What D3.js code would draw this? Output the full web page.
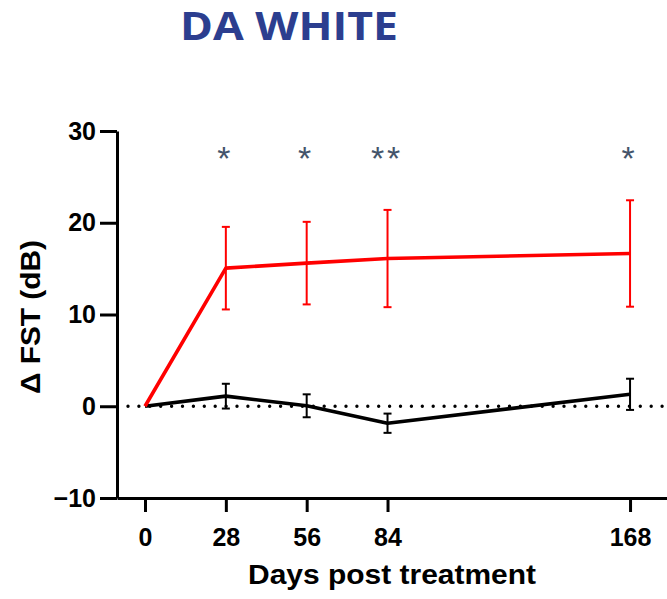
<!DOCTYPE html>
<html>
<head>
<meta charset="utf-8">
<script src="https://cdn.jsdelivr.net/npm/d3@7"></script>
<style>
  html, body { margin: 0; padding: 0; background: #ffffff; }
  svg { display: block; }
</style>
</head>
<body>
<svg id="chart" width="667" height="599"></svg>
<script>
// Time points (days post treatment)
const days = [0, 28, 56, 84, 168];
const xTickValues = [0, 28, 56, 84, 168];
const yTickValues = [-10, 0, 10, 20, 30];

// Treated group (red): mean change and SEM
const treatedMean = [0, 15.05, 15.6, 16.1, 16.65];
const treatedSem  = [0, 4.5, 4.5, 5.3, 5.8];

// Control group (black): mean change and SEM
const controlMean = [0, 1.1, 0.05, -1.85, 1.3];
const controlSem  = [0, 1.35, 1.25, 1.05, 1.7];

// Significance markers per time point
const significance = ["", "*", "*", "**", "*"];

const titleText = "DA WHITE";
const xTitle = "Days post treatment";
const yTitle = "\u0394 FST (dB)";

const svg = d3.select("#chart");
const font = "'Liberation Sans', Arial, sans-serif";

const x = d3.scaleLinear().domain([-9.7, 180.8]).range([117, 667]);
const y = d3.scaleLinear().domain([-10, 30]).range([498, 131]);

// Title
svg.append("text")
  .attr("x", 289).attr("y", 39.5)
  .attr("text-anchor", "middle")
  .attr("font-family", "'Open Sans', 'Noto Sans', sans-serif")
  .attr("font-weight", 700)
  .attr("font-size", 39)
  .attr("textLength", 218)
  .attr("lengthAdjust", "spacingAndGlyphs")
  .attr("fill", "#2c3e8f")
  .text(titleText);

// Zero reference line (dotted)
svg.append("line")
  .attr("x1", 128).attr("x2", 667)
  .attr("y1", y(0)).attr("y2", y(0))
  .attr("stroke", "#000")
  .attr("stroke-width", 3.4)
  .attr("stroke-linecap", "round")
  .attr("stroke-dasharray", "0 10.9");

// Axes
const xAxis = d3.axisBottom(x).tickValues(xTickValues).tickSize(14).tickSizeOuter(0).tickPadding(16);
const yAxis = d3.axisLeft(y).tickValues(yTickValues).tickSize(17).tickSizeOuter(0).tickPadding(4);

const gx = svg.append("g").attr("transform", `translate(0,${y(-10)})`).call(xAxis);
const gy = svg.append("g").attr("transform", `translate(${x(-9.7)},0)`).call(yAxis);

[gx, gy].forEach(g => {
  g.selectAll("path, line").attr("stroke", "#000").attr("stroke-width", 3);
  g.selectAll("text")
    .attr("font-family", font)
    .attr("font-weight", 700)
    .attr("font-size", 25)
    .attr("fill", "#000");
});

// Axis titles
svg.append("text")
  .attr("x", 392).attr("y", 584)
  .attr("text-anchor", "middle")
  .attr("font-family", font)
  .attr("font-weight", 700)
  .attr("font-size", 28)
  .attr("textLength", 288)
  .attr("lengthAdjust", "spacingAndGlyphs")
  .attr("fill", "#000")
  .text(xTitle);

svg.append("text")
  .attr("transform", "translate(40,317) rotate(-90)")
  .attr("text-anchor", "middle")
  .attr("font-family", font)
  .attr("font-weight", 700)
  .attr("font-size", 28)
  .attr("textLength", 154)
  .attr("lengthAdjust", "spacingAndGlyphs")
  .attr("fill", "#000")
  .text(yTitle);

// Series drawing helper
function drawSeries(means, sems, color) {
  const pts = days.map((d, i) => ({ d, m: means[i], s: sems[i] }));
  const line = d3.line().x(p => x(p.d)).y(p => y(p.m));
  const g = svg.append("g");
  const bars = pts.filter(p => p.s > 0);
  const cap = 4;
  g.selectAll(".eb").data(bars).join("line")
    .attr("x1", p => x(p.d)).attr("x2", p => x(p.d))
    .attr("y1", p => y(p.m - p.s)).attr("y2", p => y(p.m + p.s))
    .attr("stroke", color).attr("stroke-width", 2);
  g.selectAll(".capTop").data(bars).join("line")
    .attr("x1", p => x(p.d) - cap).attr("x2", p => x(p.d) + cap)
    .attr("y1", p => y(p.m + p.s)).attr("y2", p => y(p.m + p.s))
    .attr("stroke", color).attr("stroke-width", 2);
  g.selectAll(".capBot").data(bars).join("line")
    .attr("x1", p => x(p.d) - cap).attr("x2", p => x(p.d) + cap)
    .attr("y1", p => y(p.m - p.s)).attr("y2", p => y(p.m - p.s))
    .attr("stroke", color).attr("stroke-width", 2);
  g.append("path")
    .attr("d", line(pts))
    .attr("fill", "none")
    .attr("stroke", color)
    .attr("stroke-width", 3.6)
    .attr("stroke-linejoin", "round");
}

drawSeries(controlMean, controlSem, "#000000");
drawSeries(treatedMean, treatedSem, "#ff0000");

// Significance asterisks
const sigG = svg.append("g")
  .attr("font-family", font)
  .attr("font-size", 34)
  .attr("fill", "#44546a");
days.forEach((d, i) => {
  const marks = significance[i];
  const n = marks.length;
  for (let k = 0; k < n; k++) {
    sigG.append("text")
      .attr("x", x(d) - 2 + (k - (n - 1) / 2) * 16)
      .attr("y", 169.5)
      .attr("text-anchor", "middle")
      .text(marks[k]);
  }
});
</script>
</body>
</html>
